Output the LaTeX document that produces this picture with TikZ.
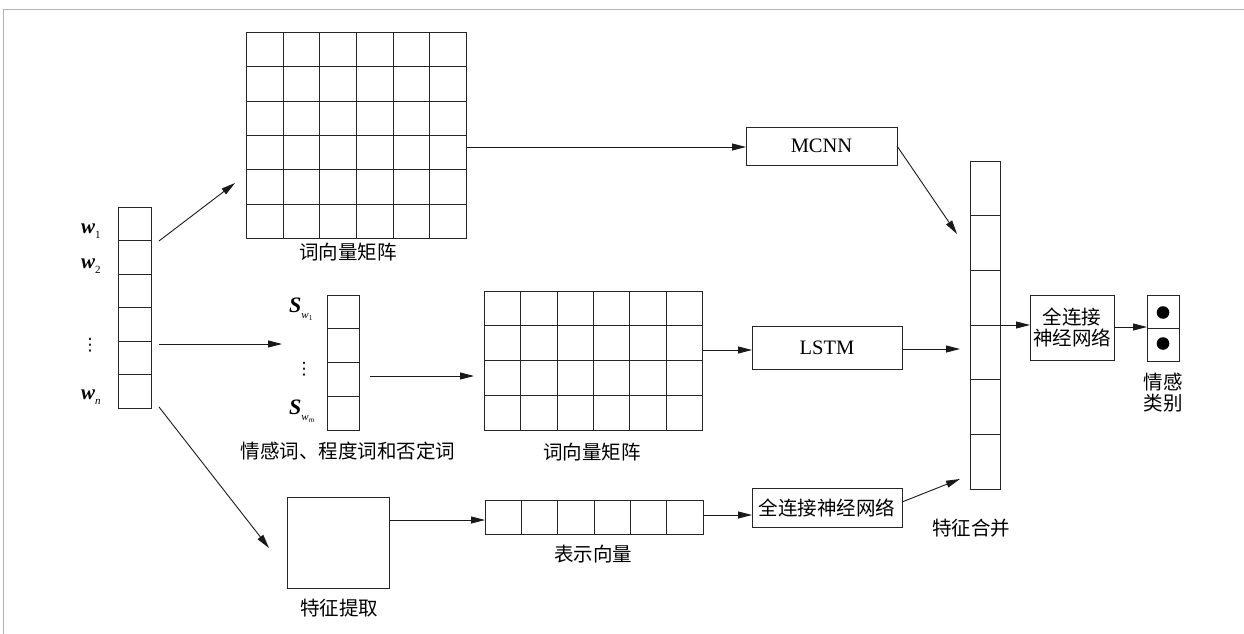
\documentclass[tikz,border=0pt]{standalone}
\usepackage{fontspec}
\setmainfont{Liberation Serif}
\newfontfamily\cjk{Noto Sans CJK SC}
\newfontfamily\dejavu{DejaVu Sans}
\usetikzlibrary{arrows.meta,calc}
\newcommand\cellgrid[3]{%
  \ifnum#2>1
    \pgfmathtruncatemacro\cgc{#2-1}%
    \foreach \i in {1,...,\cgc}{\draw[gridline] ($(#1.north west)!\i/#2!(#1.north east)$) -- ($(#1.south west)!\i/#2!(#1.south east)$);}%
  \fi
  \ifnum#3>1
    \pgfmathtruncatemacro\cgr{#3-1}%
    \foreach \i in {1,...,\cgr}{\draw[gridline] ($(#1.north west)!\i/#3!(#1.south west)$) -- ($(#1.north east)!\i/#3!(#1.south east)$);}%
  \fi}
\tikzset{
  box/.style={draw=black!85, line width=1pt, rectangle, inner sep=0pt, outer sep=0pt},
  gridline/.style={draw=black!85, line width=0.9pt},
  arr/.style={line width=0.9pt, draw=black!90, -{Triangle[length=14pt,width=7pt]}},
  lbl/.style={font=\cjk\fontsize{19.5}{22}\selectfont, inner sep=0pt},
  lat/.style={font=\fontsize{20.5}{22}\selectfont, inner sep=0pt},
  vd/.style={font=\dejavu\fontsize{17}{17}\selectfont, inner sep=0pt},
  wl/.style={font=\fontsize{21}{22}\selectfont, inner sep=0pt, anchor=west},
  frame/.style={draw=gray!60, line width=1.5pt},
}
\begin{document}
\begin{tikzpicture}[x=1pt,y=-1pt]
\useasboundingbox (0,0) rectangle (1244,634);
\draw[frame] (3.5,634) -- (3.5,9.5) -- (1244,9.5);

% left word vector
\node[box, minimum width=33pt, minimum height=201pt] (LV) at (135,307.5) {};
\cellgrid{LV}{1}{6}
\node[wl] (w1) at (81,231) {{\bfseries\itshape w}\raisebox{-5pt}{\fontsize{11}{11}\selectfont 1}};
\node[wl] (w2) at (81,266) {{\bfseries\itshape w}\raisebox{-5pt}{\fontsize{11}{11}\selectfont 2}};
\node[vd] (wd) at (90,345) {⋮};
\node[wl] (wn) at (81,397) {{\bfseries\itshape w}\raisebox{-5pt}{\fontsize{11}{11}\selectfont\itshape n}};

% top word-vector matrix
\node[box, minimum width=220pt, minimum height=206pt] (M1) at (356.5,135.5) {};
\cellgrid{M1}{6}{6}
\node[lbl] (cap1) at (348,252) {词向量矩阵};

% sentiment word vector
\node[box, minimum width=32.5pt, minimum height=135pt] (SV) at (343.25,362.5) {};
\cellgrid{SV}{1}{4}
\node[wl] (s1) at (289,309) {{\fontsize{22}{22}\selectfont\bfseries\itshape S}\raisebox{-6pt}{\fontsize{11}{11}\selectfont\itshape w\raisebox{-2.5pt}{\fontsize{7.5}{7.5}\selectfont\upshape 1}}};
\node[vd] (sd) at (304,369) {⋮};
\node[wl] (sm) at (289,411) {{\fontsize{22}{22}\selectfont\bfseries\itshape S}\raisebox{-6pt}{\fontsize{11}{11}\selectfont\itshape w\raisebox{-2.5pt}{\fontsize{7.5}{7.5}\selectfont m}}};
\node[lbl] (capS) at (348,451) {情感词、程度词和否定词};

% second matrix
\node[box, minimum width=218pt, minimum height=139.5pt] (M2) at (593.5,360.75) {};
\cellgrid{M2}{6}{4}
\node[lbl] (cap2) at (592,452) {词向量矩阵};

% feature extraction
\node[box, minimum width=102.5pt, minimum height=91pt] (FE) at (338.25,542.5) {};
\node[lbl] (capFE) at (339,608) {特征提取};

% representation vector
\node[box, minimum width=218pt, minimum height=34pt] (RV) at (594,517) {};
\cellgrid{RV}{6}{1}
\node[lbl] (capRV) at (593,554) {表示向量};

% processing boxes
\node[box, lat, minimum width=151pt, minimum height=38pt] (MCNN) at (821.5,146) {MCNN};
\node[box, lat, minimum width=150pt, minimum height=43.5pt] (LSTM) at (827,347.75) {LSTM};
\node[box, lbl, minimum width=150pt, minimum height=39pt] (FC1) at (827,508) {全连接神经网络};

% feature merge column
\node[box, minimum width=30.5pt, minimum height=328pt] (COL) at (985.25,325) {};
\cellgrid{COL}{1}{6}
\node[lbl] (capM) at (971,528) {特征合并};

% FC2
\node[box, lbl, minimum width=84pt, minimum height=65.5pt, align=center] (FC2) at (1072,327.75) {全连接\\[-1pt]神经网络};

% output
\node[box, minimum width=32pt, minimum height=66pt] (DB) at (1163,328) {};
\cellgrid{DB}{1}{2}
\fill (1163,312.5) circle (6.3pt);
\fill (1163,343.5) circle (6.3pt);
\node[lbl] (c1) at (1163,382) {情感};
\node[lbl] (c2) at (1163,403) {类别};

% connector end points
\coordinate (a1s) at (159,241);
\coordinate (a1e) at (235,183);
\coordinate (a2s) at (159,344);
\coordinate (a2e) at (282,344);
\coordinate (a3s) at (159,407);
\coordinate (a3e) at (269,548);
\coordinate (a5e) at (957,234);
\coordinate (a8e) at (960,349);
\coordinate (a11e) at (960,479);

\draw[arr] (a1s) -- (a1e);
\draw[arr] (a2s) -- (a2e);
\draw[arr] (a3s) -- (a3e);
\draw[arr] (M1.east |- 0,147) -- (MCNN.west |- 0,147);
\draw[arr] (MCNN.east) -- (a5e);
\draw[arr] (370,376) coordinate (a6s) -- (474,376) coordinate (a6e);
\draw[arr] (M2.east |- 0,350) -- (LSTM.west |- 0,350);
\draw[arr] (LSTM.east |- 0,349) -- (a8e);
\draw[arr] (FE.east |- 0,520) -- (RV.west |- 0,520);
\draw[arr] (RV.east |- 0,515) -- (FC1.west |- 0,515);
\draw[arr] (FC1.east |- 0,502) -- (a11e);
\draw[arr] (COL.east |- 0,325) -- (FC2.west |- 0,325);
\draw[arr] (FC2.east |- 0,327) -- (DB.west |- 0,327);
\end{tikzpicture}
\end{document}
